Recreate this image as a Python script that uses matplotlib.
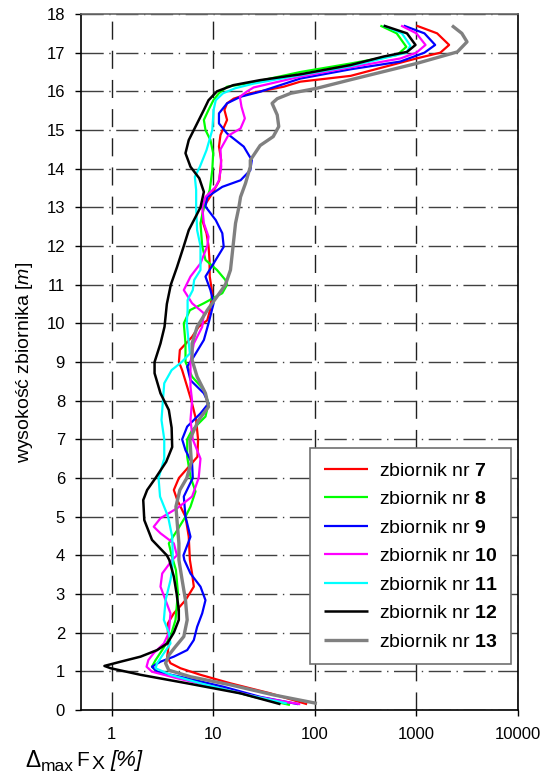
import matplotlib
matplotlib.use('Agg')
import matplotlib.pyplot as plt
from matplotlib.ticker import NullLocator

plt.rcParams['font.family'] = ['Liberation Sans', 'DejaVu Sans']
plt.rcParams['mathtext.fontset'] = 'custom'
plt.rcParams['mathtext.rm'] = 'Liberation Sans'
plt.rcParams['mathtext.it'] = 'Liberation Sans:italic'
plt.rcParams['mathtext.bf'] = 'Liberation Sans:bold'

# height [m] and delta [%], one pair per tank
h7 = [0.15, 0.43, 0.69, 0.91, 1.08, 1.21, 1.38, 1.72, 2.0, 2.24, 2.5, 2.84, 3.19, 3.53, 3.88, 4.48,
      5.0, 5.43, 5.69, 6.0, 6.29, 6.55, 7.0, 7.5, 8.0, 8.36, 8.79, 9.0, 9.31, 9.65, 9.91, 10.08,
      10.34, 10.78, 11.21, 11.64, 12.0, 12.33, 12.67, 13.0, 13.36, 13.7, 14.22, 14.57, 14.87,
      15.26, 15.52, 15.69, 15.81, 15.95, 16.12, 16.25, 16.4, 16.85, 17.0, 17.2, 17.5, 17.7]
d7 = [84, 36.6, 14.8, 7.5, 4.77, 3.8, 3.53, 3.66, 3.58, 3.58, 4.1, 5.34, 6.45, 6.2, 5.9, 5.75,
      5.34, 4.43, 4.1, 4.6, 5.75, 7.0, 7.1, 6.8, 6.1, 5.55, 4.95, 4.6, 4.7, 6.2, 7.2, 8.75,
      9.3, 9.8, 9.25, 9.2, 9.0, 8.6, 7.8, 8.0, 9.8, 11.5, 12.0, 11.4, 11.8,
      13.7, 12.9, 13.7, 15.9, 23.2, 49.5, 72, 225, 1000, 1720, 2100, 1600, 1000]

h8 = [0.13, 0.34, 0.6, 0.82, 0.99, 1.12, 1.29, 1.55, 1.9, 2.33, 3.02, 3.62, 4.0, 4.31, 4.65, 5.0,
      5.26, 5.65, 6.03, 6.55, 7.0, 7.24, 7.59, 7.93, 8.28, 8.62, 9.0, 9.48, 10.0, 10.34, 10.52,
      10.78, 11.0, 11.12, 11.38, 11.64, 12.0, 12.59, 13.0, 13.45, 13.96, 14.4, 14.74, 15.0, 15.26,
      15.52, 15.78, 15.95, 16.12, 16.22, 16.5, 16.72, 16.94, 17.15, 17.5, 17.7]
d8 = [57, 25, 10.9, 4.77, 2.81, 2.5, 2.71, 3.15, 3.8, 4.26, 4.5, 4.3, 3.9, 3.66, 4.43, 5.34,
      5.98, 6.7, 5.98, 5.55, 5.55, 6.2, 8.4, 9.0, 8.1, 6.2, 5.34, 5.34, 5.14, 5.9, 8.1,
      12.3, 13.7, 13.2, 10.9, 8.4, 7.8, 7.5, 8.1, 9.25, 9.8, 10.0, 9.4, 8.4, 8.1,
      9.0, 10.1, 11.4, 13.7, 23.3, 72, 225, 645, 796, 640, 442]

h9 = [0.15, 0.34, 0.6, 0.82, 0.99, 1.12, 1.25, 1.38, 1.55, 1.81, 2.15, 2.5, 2.84, 3.19, 3.53,
      3.88, 4.0, 4.48, 5.0, 5.52, 6.0, 6.38, 6.72, 7.0, 7.33, 7.67, 7.93, 8.19, 8.53, 8.88, 9.14,
      9.57, 10.0, 10.52, 10.86, 11.21, 11.55, 11.98, 12.33, 12.67, 13.02, 13.27, 13.53, 13.7,
      13.96, 14.22, 14.57, 14.91, 15.17, 15.43, 15.69, 15.86, 15.99, 16.33, 16.57, 16.77, 17.0,
      17.2, 17.5, 17.7]
d9 = [69, 29, 12.7, 5.55, 2.81, 2.5, 3.03, 4.1, 5.55, 6.45, 6.95, 7.8, 8.4, 7.5, 5.98,
      5.2, 5.1, 5.98, 5.34, 5.14, 6.3, 6.2, 5.34, 4.95, 5.55, 7.5, 9.0, 8.1, 5.98, 5.55, 6.45,
      8.1, 9.0, 10.1, 9.4, 8.4, 10.1, 12.7, 12.3, 10.6, 8.4, 8.75, 12.3, 18.6,
      23.2, 24, 20, 13.7, 11.4, 11.4, 13.7, 18.6, 29, 72, 225, 695, 1200,
      1530, 1200, 750]

h10 = [0.15, 0.34, 0.6, 0.82, 0.99, 1.12, 1.29, 1.47, 1.72, 2.0, 2.5, 2.84, 3.19, 3.53, 3.88,
       4.0, 4.31, 4.57, 4.74, 4.96, 5.22, 5.52, 6.0, 6.5, 7.0, 7.5, 8.0, 8.36, 9.0, 9.48, 9.91,
       10.26, 10.52, 10.86, 11.21, 11.55, 12.0, 12.24, 12.59, 13.0, 13.27, 13.53, 13.7, 14.05,
       14.5, 14.85, 15.04, 15.3, 15.6, 15.86, 16.0, 16.1, 16.38, 16.62, 16.85, 17.0, 17.2, 17.5,
       17.7]
d10 = [72, 27, 10.1, 4.43, 2.5, 2.21, 2.3, 2.6, 3.27, 3.66, 3.8, 3.4, 3.03, 3.15, 3.95,
       4.4, 4.1, 3.03, 2.6, 3.03, 4.43, 6.2, 7.2, 7.5, 6.3, 5.98, 6.2, 5.98, 5.98, 6.45, 7.8,
       8.1, 6.2, 5.14, 5.98, 7.5, 8.75, 9.0, 8.1, 7.8, 8.4, 10.6, 11.4, 12.0,
       11.8, 14.0, 18.6, 20.5, 19.0, 18.3, 21.6, 25, 72, 225, 695, 1000, 1230, 1000,
       707]

h11 = [0.17, 0.43, 0.69, 0.91, 1.08, 1.21, 1.47, 1.72, 2.0, 2.33, 2.84, 3.36, 3.62, 4.0, 4.48,
       5.0, 5.52, 6.0, 6.5, 7.0, 7.5, 8.0, 8.45, 8.79, 9.0, 9.22, 9.48, 10.0, 10.34, 10.6, 10.86,
       11.12, 11.38, 12.0, 12.41, 13.0, 13.45, 13.79, 14.05, 14.48, 15.0, 15.52, 15.77, 15.95,
       16.08, 16.2, 16.42, 16.65, 16.87, 17.0, 17.18, 17.5, 17.7]
d11 = [53, 18.6, 7.5, 3.8, 2.71, 2.81, 3.27, 3.8, 3.66, 3.27, 3.4, 3.8, 3.95, 4.0, 3.95,
       3.6, 3.0, 2.9, 3.3, 3.3, 3.1, 3.2, 3.3, 3.9, 4.9, 5.9, 5.75, 5.5, 5.6, 5.6, 6.3,
       6.5, 7.5, 7.5, 6.95, 6.8, 6.8, 6.6, 7.4, 8.6, 9.8, 10.1, 10.6, 12.5,
       16.5, 25, 72, 225, 500, 800, 872, 720, 476]

h12 = [0.15, 0.43, 0.69, 0.91, 1.08, 1.14, 1.25, 1.38, 1.55, 1.72, 2.0, 2.33, 2.59, 3.02, 3.45,
       3.88, 4.0, 4.4, 4.91, 5.43, 5.69, 6.0, 6.42, 6.8, 7.3, 7.76, 8.19, 8.71, 9.0, 9.48, 9.91,
       10.5, 11.0, 11.45, 12.0, 12.41, 13.0, 13.4, 13.75, 14.05, 14.4, 14.74, 15.0, 15.52, 15.77,
       16.0, 16.16, 16.29, 16.44, 16.68, 16.9, 17.02, 17.2, 17.5, 17.7]
d12 = [46, 18.6, 5.55, 1.93, 0.98, 0.85, 1.23, 1.93, 2.81, 3.53, 4.1, 4.59, 4.59, 4.36, 4.1,
       3.7, 3.5, 2.5, 2.1, 2.05, 2.24, 2.71, 3.45, 3.95, 3.9, 3.66, 3.03, 2.65, 2.65, 3.03, 3.32,
       3.5, 3.83, 4.4, 5.14, 5.75, 7.5, 8.1, 7.3, 5.98, 5.34, 5.75, 6.45, 8.1, 9.0,
       10.9, 15.8, 29, 72, 225, 476, 808, 980, 808, 476]

h13 = [0.17, 0.39, 0.65, 0.86, 1.03, 1.21, 1.42, 1.64, 1.9, 2.33, 2.84, 3.36, 3.88, 4.31, 4.83,
       5.26, 5.69, 6.0, 6.42, 7.0, 7.5, 7.84, 8.19, 8.62, 9.05, 9.48, 9.91, 10.34, 10.69, 11.0,
       11.38, 12.0, 12.59, 13.0, 13.27, 13.62, 14.05, 14.22, 14.6, 14.83, 15.09, 15.39, 15.69,
       15.81, 15.95, 16.08, 16.3, 16.72, 17.02, 17.28, 17.5, 17.7]
d13 = [105, 39.3, 14.8, 5.98, 3.66, 3.4, 3.66, 4.26, 5.14, 5.55, 5.34, 4.95, 4.6, 4.6, 4.43,
       4.3, 4.7, 5.5, 6.1, 5.9, 7.2, 9.0, 8.4, 6.95, 6.2, 6.2, 6.95, 8.75, 10.9, 13.2,
       14.8, 15.7, 16.6, 17.9, 18.6, 20.8, 23.2, 23.2, 29, 39, 44.2, 42.7, 38,
       42.7, 58, 105, 225, 1000, 2530, 3150, 2800, 2240]

tank_numbers = ['7', '8', '9', '10', '11', '12', '13']
x_ticks = [1, 10, 100, 1000, 10000]
x_tick_labels = ['1', '10', '100', '1000', '10000']
y_ticks = list(range(0, 19))

series = [
    (h7, d7, '#ff0000', 1.6),
    (h8, d8, '#00ff00', 1.6),
    (h9, d9, '#0000ff', 1.6),
    (h10, d10, '#ff00ff', 1.6),
    (h11, d11, '#00ffff', 1.6),
    (h12, d12, '#000000', 1.8),
    (h13, d13, '#808080', 2.4),
]

fig = plt.figure(figsize=(5.6, 7.78), dpi=100)
ax = fig.add_axes([0.1446, 0.0874, 0.7804, 0.8946])

for nr, (h, d, c, lw) in zip(tank_numbers, series):
    ax.plot(d, h, color=c, lw=lw, solid_joinstyle='round', solid_capstyle='butt',
            label=f'zbiornik nr $\\mathbf{{{nr}}}$')

ax.set_xscale('log')
ax.set_xlim(0.5, 10000)
ax.set_ylim(0, 18)
ax.set_xticks(x_ticks)
ax.set_xticklabels(x_tick_labels)
ax.xaxis.set_minor_locator(NullLocator())
ax.set_yticks(y_ticks)

ax.set_axisbelow(True)
ax.grid(True, which='major', axis='y', color='#404040', lw=1.0, dashes=(16, 4, 1, 4))
ax.grid(True, which='major', axis='x', color='#202020', lw=1.0, dashes=(13, 8))

ax.tick_params(axis='y', direction='out', length=4.5, width=1, pad=7, labelsize=12)
ax.tick_params(axis='x', direction='out', length=4, width=1, pad=8, labelsize=12)

for side in ['left', 'bottom', 'right']:
    ax.spines[side].set_color('#000000')
    ax.spines[side].set_linewidth(1.2)
ax.spines['top'].set_color('#666666')
ax.spines['top'].set_linewidth(1.2)

ax.set_ylabel('wysokość zbiornika $\\mathit{[m]}$', fontsize=14)
ax.yaxis.set_label_coords(-0.105, 0.5)

# x label built from pieces: delta, subscript max, F, subscript X, italic unit
W, H = 560.0, 778.0
fig.text(25 / W, (H - 767) / H, '\u0394', fontsize=16.5, ha='left', va='baseline')
fig.text(41 / W, (H - 771) / H, 'max', fontsize=12.5, ha='left', va='baseline')
fig.text(76 / W, (H - 766) / H, 'F', fontsize=15, ha='left', va='baseline')
fig.text(92 / W, (H - 769) / H, 'X', fontsize=14, ha='left', va='baseline')
fig.text(110 / W, (H - 766) / H, '[%]', fontsize=16, style='italic', ha='left', va='baseline')

leg = ax.legend(loc='upper left', bbox_to_anchor=(0.524, 0.376), borderaxespad=0,
                fontsize=14, frameon=True, fancybox=False, edgecolor='#707070',
                handlelength=2.3, handletextpad=0.55, labelspacing=0.56, borderpad=0.7)
leg.get_frame().set_linewidth(1.2)
leg.get_frame().set_alpha(1)

fig.savefig('out.png', dpi=100)
